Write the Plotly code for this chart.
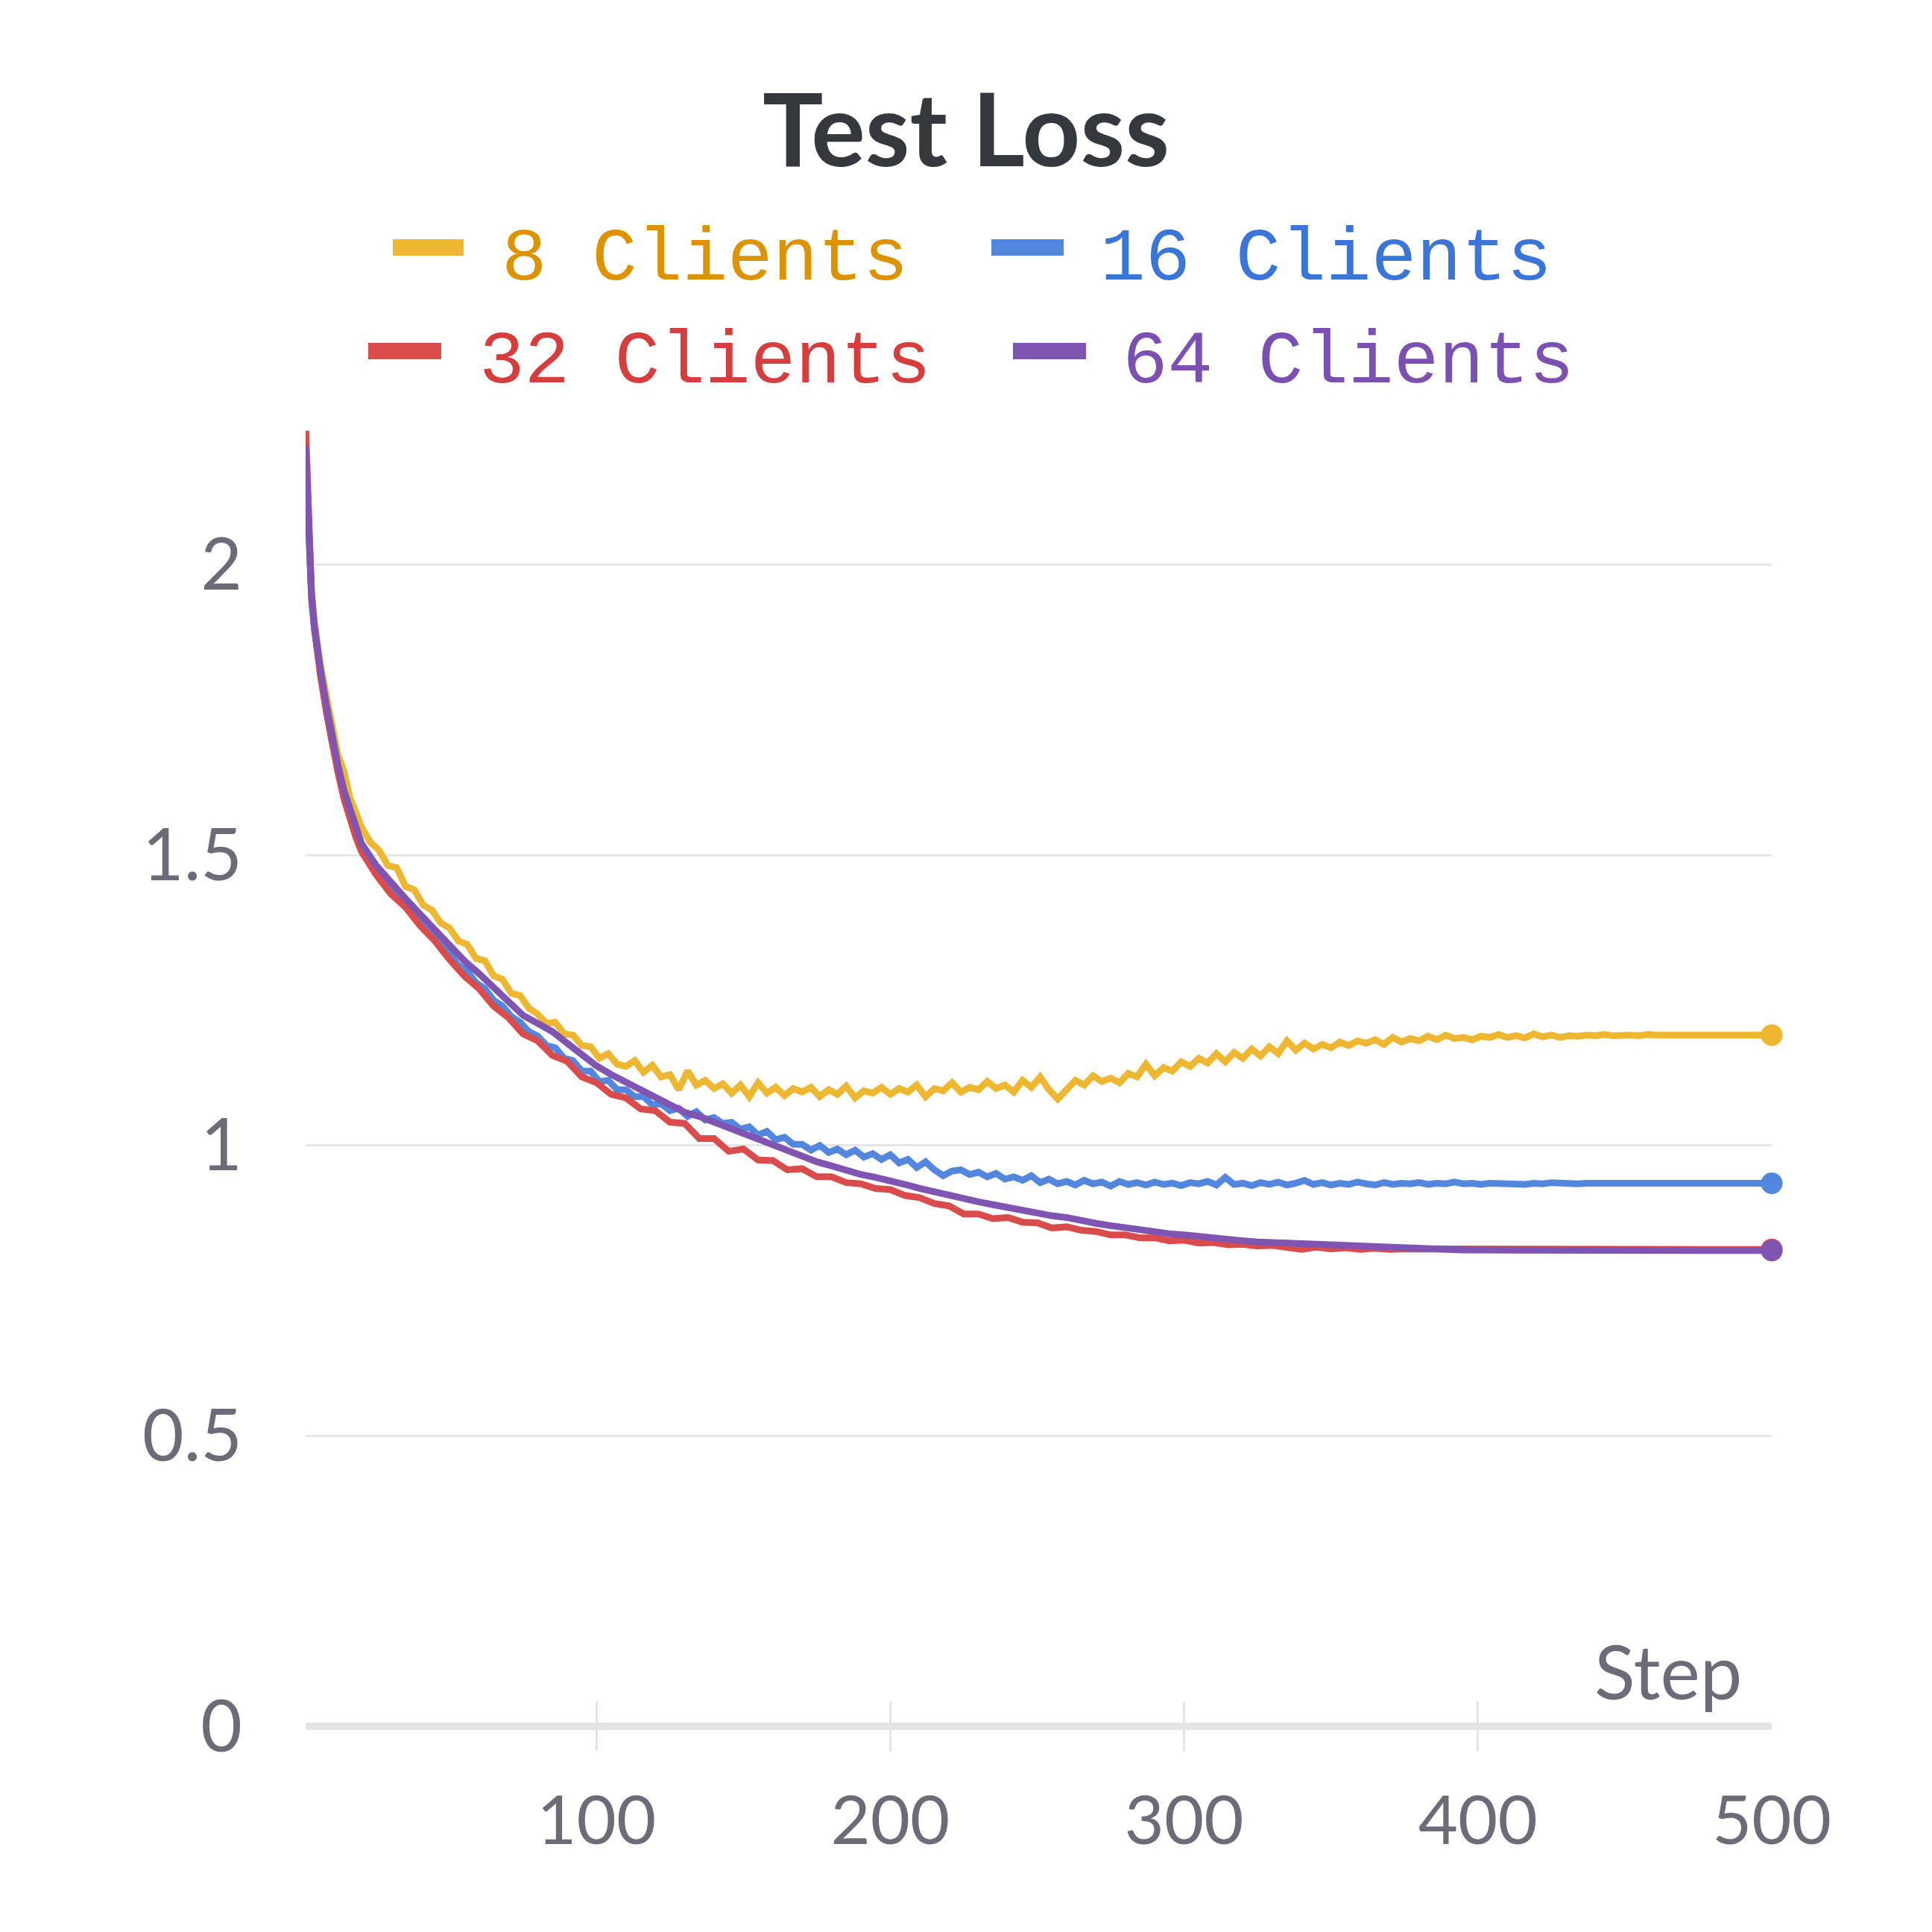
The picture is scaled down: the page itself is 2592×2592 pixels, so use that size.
import plotly.graph_objects as go

"""
test loss curves for different numbers of clients
"""

early_steps = [1, 2, 3, 4, 5, 6, 8, 10, 12, 14, 16, 18]
steps_coarse = early_steps + list(range(20, 501, 5))
steps_fine = early_steps + list(range(20, 501, 3))

# 8 and 16 clients are read on the fine grid (every 3 steps), they are noisier
loss_8 = [
    2.20, 2.03, 1.95, 1.90, 1.862, 1.83, 1.775, 1.725, 1.672, 1.645, 1.60, 1.575,
    1.548, 1.522, 1.508, 1.482, 1.478, 1.446, 1.440, 1.414, 1.405, 1.383,
    1.374, 1.352, 1.346, 1.322, 1.318, 1.292, 1.286, 1.262, 1.258, 1.236,
    1.226, 1.210, 1.212, 1.192, 1.190, 1.172, 1.170, 1.150, 1.158, 1.140,
    1.136, 1.146, 1.126, 1.138, 1.118, 1.122, 1.096, 1.128, 1.104, 1.112,
    1.098, 1.106, 1.090, 1.104, 1.084, 1.108, 1.090, 1.100, 1.086, 1.098,
    1.092, 1.100, 1.084, 1.096, 1.088, 1.102, 1.082, 1.094, 1.090, 1.100,
    1.088, 1.098, 1.092, 1.104, 1.084, 1.098, 1.094, 1.108, 1.092, 1.100,
    1.096, 1.110, 1.098, 1.104, 1.092, 1.112, 1.100, 1.118, 1.096, 1.080,
    1.098, 1.112, 1.104, 1.120, 1.110, 1.116, 1.108, 1.124, 1.118, 1.140,
    1.120, 1.134, 1.128, 1.144, 1.136, 1.150, 1.142, 1.158, 1.144, 1.160,
    1.150, 1.166, 1.154, 1.170, 1.158, 1.180, 1.164, 1.176, 1.166, 1.174,
    1.168, 1.178, 1.172, 1.180, 1.176, 1.182, 1.174, 1.186, 1.178, 1.184,
    1.180, 1.188, 1.182, 1.190, 1.184, 1.186, 1.182, 1.188, 1.186, 1.191,
    1.186, 1.189, 1.185, 1.192, 1.187, 1.190, 1.186, 1.189, 1.188, 1.190,
    1.189, 1.191, 1.189, 1.190, 1.190, 1.189, 1.191, 1.190, 1.190, 1.191,
    1.190, 1.190, 1.191, 1.190, 1.190, 1.191, 1.190, 1.190, 1.190, 1.190,
    1.190,
]

loss_16 = [
    2.20, 2.02, 1.94, 1.888, 1.848, 1.812, 1.75, 1.695, 1.645, 1.60, 1.566, 1.535,
    1.510, 1.488, 1.470, 1.449, 1.435, 1.414, 1.402, 1.383, 1.370, 1.350,
    1.328, 1.310, 1.300, 1.280, 1.270, 1.250, 1.240, 1.222, 1.212, 1.196,
    1.188, 1.172, 1.168, 1.150, 1.146, 1.128, 1.128, 1.110, 1.112, 1.096,
    1.096, 1.084, 1.084, 1.070, 1.072, 1.060, 1.064, 1.050, 1.058, 1.044,
    1.048, 1.038, 1.040, 1.028, 1.032, 1.018, 1.024, 1.010, 1.014, 1.002,
    1.002, 0.992, 1.000, 0.988, 0.994, 0.984, 0.992, 0.980, 0.986, 0.976,
    0.984, 0.970, 0.976, 0.962, 0.972, 0.958, 0.948, 0.956, 0.958, 0.950,
    0.954, 0.946, 0.952, 0.942, 0.946, 0.940, 0.948, 0.936, 0.942, 0.934,
    0.938, 0.932, 0.940, 0.934, 0.937, 0.930, 0.938, 0.933, 0.936, 0.932,
    0.937, 0.933, 0.935, 0.931, 0.936, 0.934, 0.938, 0.932, 0.945, 0.933,
    0.935, 0.931, 0.936, 0.933, 0.937, 0.932, 0.935, 0.940, 0.933, 0.936,
    0.932, 0.935, 0.933, 0.937, 0.934, 0.932, 0.936, 0.933, 0.935, 0.934,
    0.936, 0.933, 0.935, 0.934, 0.937, 0.934, 0.935, 0.933, 0.935, 0.934,
    0.935, 0.934, 0.933, 0.935, 0.934, 0.936, 0.935, 0.935, 0.934, 0.935,
    0.935, 0.936, 0.935, 0.935, 0.934, 0.935, 0.935, 0.935, 0.935, 0.935,
    0.935, 0.935, 0.935, 0.934, 0.935, 0.935, 0.935, 0.935, 0.935, 0.935,
    0.935,
]

# 32 and 64 clients on the coarse grid (every 5 steps)
loss_32 = [
    2.24, 2.04, 1.95, 1.89, 1.848, 1.81, 1.748, 1.692, 1.642, 1.598, 1.562, 1.532,
    1.506, 1.466, 1.433, 1.410, 1.378, 1.352, 1.320, 1.292, 1.270, 1.240,
    1.220, 1.192, 1.180, 1.155, 1.145, 1.118, 1.108, 1.088, 1.082, 1.063,
    1.060, 1.040, 1.038, 1.012, 1.012, 0.990, 0.994, 0.975, 0.974, 0.958,
    0.960, 0.946, 0.946, 0.936, 0.934, 0.926, 0.924, 0.914, 0.910, 0.900,
    0.896, 0.882, 0.882, 0.874, 0.876, 0.868, 0.867, 0.858, 0.860, 0.854,
    0.852, 0.846, 0.846, 0.841, 0.841, 0.836, 0.837, 0.832, 0.833, 0.829,
    0.830, 0.827, 0.828, 0.824, 0.821, 0.825, 0.822, 0.824, 0.821, 0.823,
    0.821, 0.822, 0.822, 0.821, 0.822, 0.821, 0.821, 0.821, 0.820, 0.821,
    0.821, 0.821, 0.821, 0.821, 0.820, 0.821, 0.821, 0.821, 0.821, 0.821,
    0.821, 0.821, 0.821, 0.821, 0.821, 0.821, 0.821,
]

loss_64 = [
    2.205, 2.03, 1.95, 1.895, 1.855, 1.82, 1.76, 1.705, 1.655, 1.612, 1.578, 1.548,
    1.520, 1.482, 1.452, 1.425, 1.398, 1.370, 1.344, 1.318, 1.296, 1.270,
    1.248, 1.224, 1.210, 1.196, 1.176, 1.157, 1.137, 1.122, 1.109, 1.096,
    1.086, 1.070, 1.057, 1.050, 1.040, 1.029, 1.020, 1.010, 1.000, 0.991,
    0.981, 0.972, 0.965, 0.957, 0.950, 0.945, 0.940, 0.933, 0.926, 0.920,
    0.913, 0.907, 0.903, 0.898, 0.893, 0.889, 0.884, 0.879, 0.876, 0.870,
    0.866, 0.862, 0.858, 0.856, 0.852, 0.848, 0.846, 0.843, 0.841, 0.839,
    0.836, 0.834, 0.833, 0.831, 0.830, 0.829, 0.828, 0.826, 0.825, 0.824,
    0.823, 0.822, 0.822, 0.821, 0.821, 0.820, 0.820, 0.820, 0.820, 0.819,
    0.819, 0.819, 0.819, 0.819, 0.819, 0.819, 0.819, 0.819, 0.819, 0.819,
    0.819, 0.819, 0.819, 0.819, 0.819, 0.819, 0.819,
]

names = ["8 Clients", "16 Clients", "32 Clients", "64 Clients"]
series = [loss_8, loss_16, loss_32, loss_64]
series_steps = [steps_fine, steps_fine, steps_coarse, steps_coarse]
line_colors = ["#EDB732", "#5387DD", "#DA4C4C", "#7F55B1"]
text_colors = ["#DD9200", "#3A75DA", "#D63E3E", "#7B50B2"]

y_tickvals = [0, 0.5, 1, 1.5, 2]
y_ticktext = ["0", "0.5", "1", "1.5", "2"]
x_tickvals = [100, 200, 300, 400, 500]

for xs, ys in zip(series_steps, series):
    assert len(xs) == len(ys), (len(xs), len(ys))

# page is 2592 wide, the browser body adds 8px around the figure
OFF = 8
W = H = 2592 - 2 * OFF
# plot area edges in page pixels
L, R, T, B = 410, 2377, 578, 2349
axis_grey = "#6C6B77"
sans = "Source Sans Pro, Lato, sans-serif"
mono = "Liberation Mono, DejaVu Sans Mono, monospace"


def xp(px):
    return (px - L) / (R - L)


def yp(py):
    return (B - py) / (B - T)


fig = go.Figure()
for name, xs, ys, c in zip(names, series_steps, series, line_colors):
    fig.add_trace(go.Scatter(x=xs, y=ys, mode="lines", name=name,
                             line=dict(color=c, width=9), showlegend=False))
for name, xs, ys, c in zip(names, series_steps, series, line_colors):
    fig.add_trace(go.Scatter(x=[xs[-1]], y=[ys[-1]], mode="markers",
                             marker=dict(color=c, size=29), cliponaxis=False,
                             showlegend=False, hoverinfo="skip"))

# legend drawn by hand: 2 rows, each row centered
legend_pos = [
    # bar x0, bar x1, bar y0, bar y1, text left, text center y
    (527, 622, 321, 343, 671, 348),
    (1330, 1427, 321, 343, 1474, 348),
    (494, 592, 460, 482, 641, 486),
    (1359, 1457, 460, 482, 1504, 486),
]
for (bx0, bx1, by0, by1, tx, ty), name, lc, tc in zip(legend_pos, names, line_colors, text_colors):
    fig.add_shape(type="rect", xref="paper", yref="paper",
                  x0=xp(bx0), x1=xp(bx1), y0=yp(by1), y1=yp(by0),
                  fillcolor=lc, line=dict(width=0))
    fig.add_annotation(text=name, xref="paper", yref="paper", x=xp(tx), y=yp(ty),
                       xanchor="left", yanchor="middle", showarrow=False,
                       font=dict(family=mono, size=101, color=tc))

fig.add_annotation(text="Step", xref="paper", yref="paper", x=xp(2339), y=yp(2241),
                   xanchor="right", yanchor="middle", showarrow=False,
                   font=dict(family=sans, size=101, color=axis_grey))

fig.update_layout(
    width=W, height=H,
    margin=dict(l=L - OFF, r=W - (R - OFF), t=T - OFF, b=H - (B - OFF)),
    paper_bgcolor="white", plot_bgcolor="white",
    title=dict(text="<b>Test Loss</b>", x=0.5, xref="container", xanchor="center",
               y=1 - (175 - OFF) / H, yanchor="middle",
               font=dict(family=sans, size=136, color="#35383C")),
    xaxis=dict(range=[1, 500], tickvals=x_tickvals, ticks="inside", ticklen=66,
               tickwidth=3, tickcolor="#E3E3E6", showgrid=False, zeroline=False,
               showline=False, ticklabelstandoff=32,
               tickfont=dict(family=sans, size=92, color=axis_grey)),
    yaxis=dict(range=[-0.042, 2.23], tickvals=y_tickvals, ticktext=y_ticktext,
               showgrid=True, gridcolor="#E6E6E6", gridwidth=2.5,
               zeroline=True, zerolinecolor="#E4E4E7", zerolinewidth=10,
               ticks="", showline=False, ticklabelstandoff=84,
               tickfont=dict(family=sans, size=96, color=axis_grey)),
)

fig.write_html("out.html")
